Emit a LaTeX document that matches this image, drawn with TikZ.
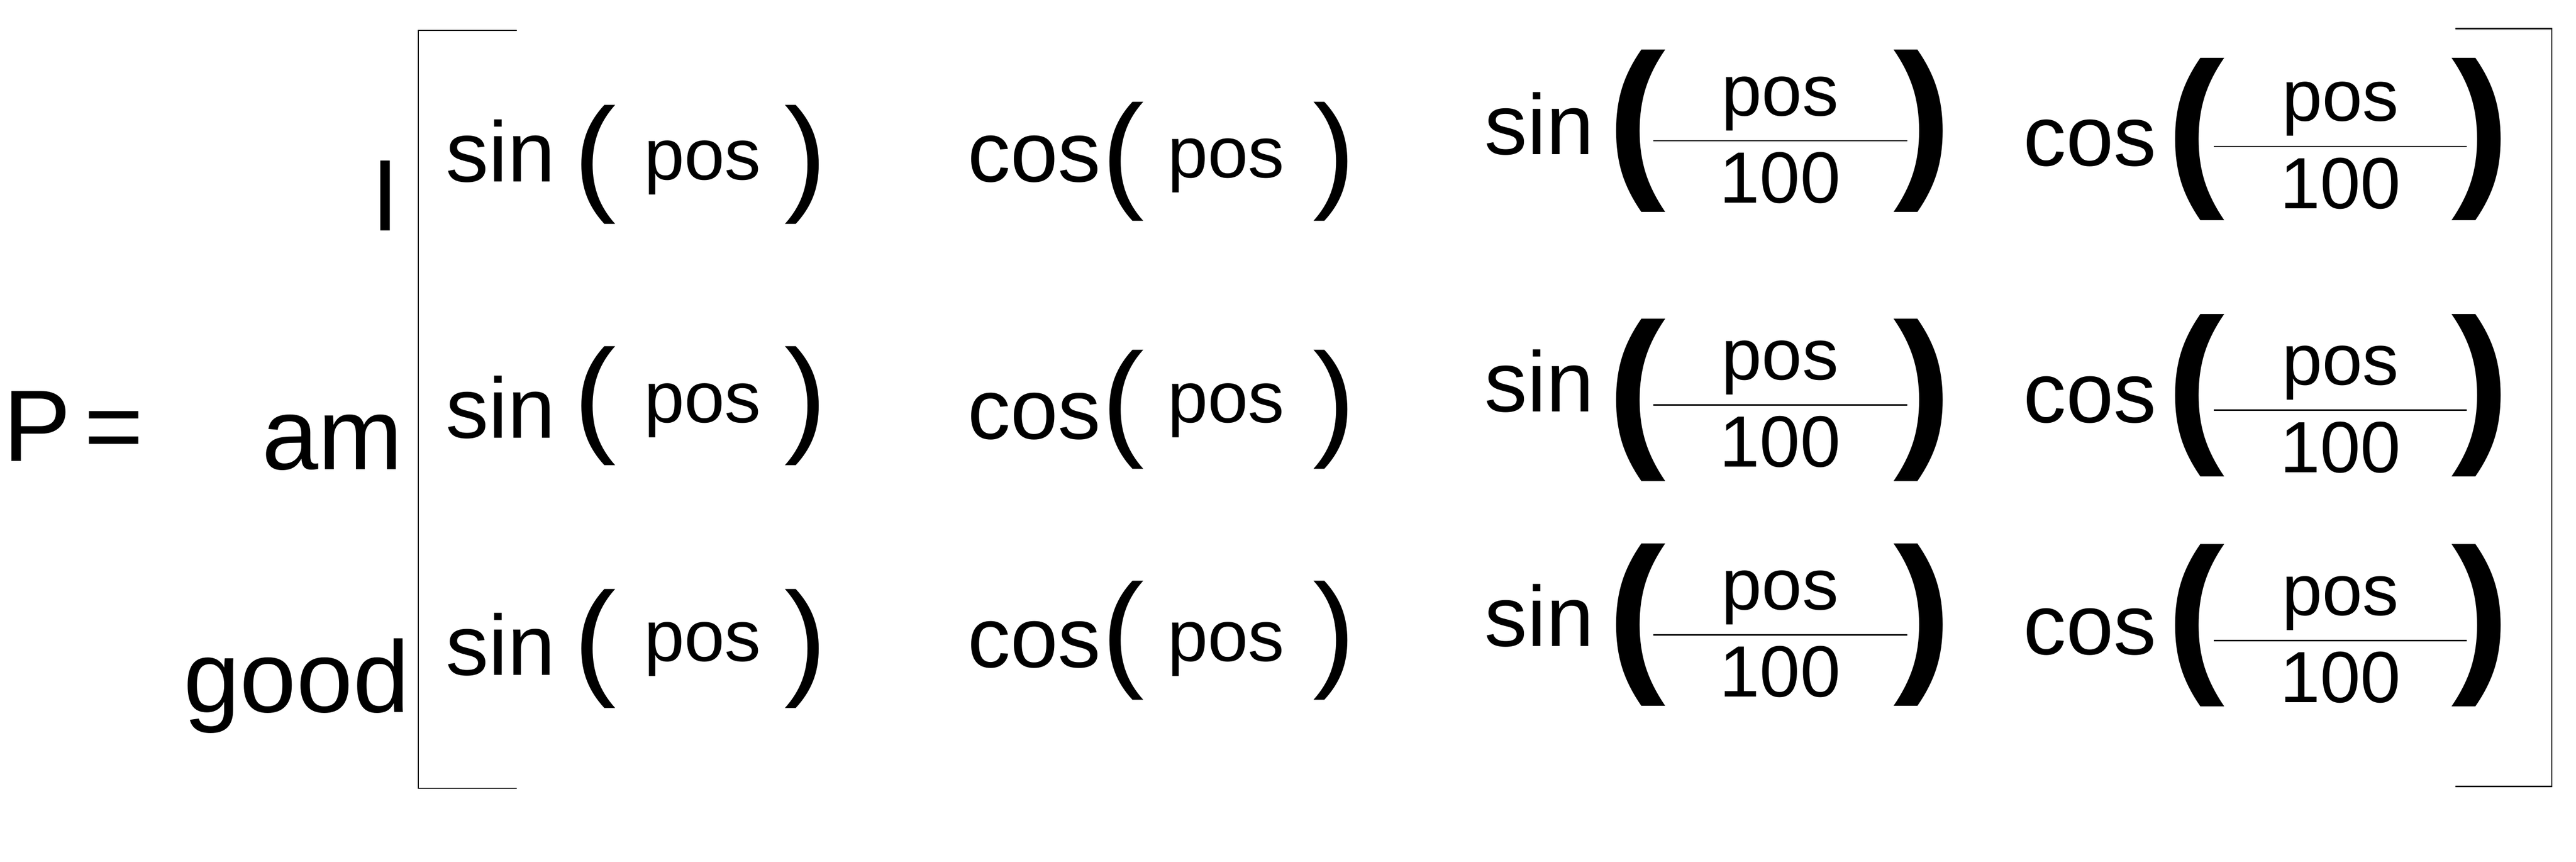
\documentclass[tikz,border=0pt]{standalone}
\usepackage{fontspec}
\setmainfont{Liberation Sans}

\begin{document}
\begin{tikzpicture}[x = 0.2mm, y = -0.2mm, % positional encoding matrix
        txt/.style = {inner sep = 0pt, outer sep = 0pt},
        lab/.style = {txt, font = \fontsize{35}{35}\selectfont},
        fun/.style = {txt, anchor = base west, font = \fontsize{29.5}{30}\selectfont},
        arg/.style = {txt, font = \fontsize{25}{25}\selectfont},
        par/.style = {txt, font = \fontsize{44}{44}\selectfont},
        bigpar/.style = {txt, font = \fontsize{60}{60}\selectfont\bfseries},
        bracket/.style = {line width = 0.45pt},
        fracrule/.style = {line width = 0.5pt}]
        \useasboundingbox (0, 0) rectangle (1560, 521.4);

        % Left hand side
        \node[lab, anchor = base west] (P) at (2, 279) {P};
        \node[lab, anchor = base west] (eq) at (51, 279) {=};
        \node[lab, anchor = base east] (I) at (242, 139.7) {I};
        \node[lab, anchor = base east] (am) at (244, 284) {am};
        \node[lab, anchor = base east] (good) at (248, 431) {good};

        % Brackets
        \draw[bracket] (313, 18.4) -- (253.3, 18.4) -- (253.3, 477) -- (313, 477);
        \draw[bracket] (1487, 17.4) -- (1545.3, 17.4) -- (1545.3, 476) -- (1487, 476);

        % Rows: sin(pos), cos(pos), sin(pos/100), cos(pos/100)
        \foreach \row/\ya/\pa/\qa/\yb/\pb/\qb/\yc/\pc/\fc/\yd/\pd/\fd in {
                1/110/119.7/108.6/110/117.7/107.6/93.6/106.4/85.2/100.3/111.4/88.6,
                2/265/265.7/255.7/265.7/267.7/255.7/249/269.5/245/255.7/266.7/248.3,
                3/408.7/412.7/400/404/407.7/400/391/405.5/384.3/396/405.7/387.7} {
            \node[fun] (fa\row) at (270, \ya) {sin};
            \node[par, anchor = base west] (la\row) at (347.3, \pa) {(};
            \node[arg, anchor = base west] (aa\row) at (390, \qa) {pos};
            \node[par, anchor = base east] (ra\row) at (500.7, \pa) {)};

            \node[fun] (fb\row) at (586, \yb) {cos};
            \node[par, anchor = base west] (lb\row) at (667.3, \pb) {(};
            \node[arg, anchor = base west] (ab\row) at (707, \qb) {pos};
            \node[par, anchor = base east] (rb\row) at (821, \pb) {)};

            \node[fun] (fc\row) at (898.9, \yc) {sin};
            \node[bigpar, anchor = base west] (lc\row) at (973.6, \pc) {(};
            \draw[fracrule] (1001.3, \fc) -- (1154.9, \fc);
            \node[arg, anchor = base] (nc\row) at (1078, \fc - 15.3) {pos};
            \node[arg, anchor = base] (dc\row) at (1078, \fc + 37.5) {100};
            \node[bigpar, anchor = base east] (rc\row) at (1181.8, \pc) {)};

            \node[fun] (fd\row) at (1225.3, \yd) {cos};
            \node[bigpar, anchor = base west] (ld\row) at (1312.1, \pd) {(};
            \draw[fracrule] (1340.6, \fd) -- (1494, \fd);
            \node[arg, anchor = base] (nd\row) at (1417.3, \fd - 15.3) {pos};
            \node[arg, anchor = base] (dd\row) at (1417.3, \fd + 37.5) {100};
            \node[bigpar, anchor = base east] (rd\row) at (1519.9, \pd) {)};
        }
    \end{tikzpicture}
\end{document}
